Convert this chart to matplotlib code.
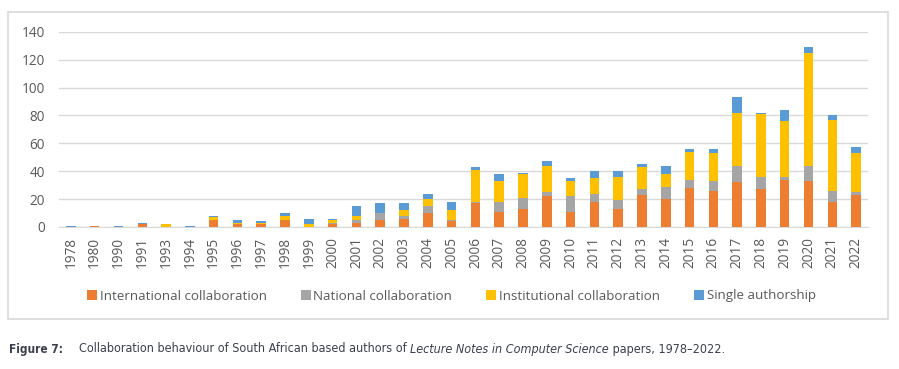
import numpy as np
import matplotlib
matplotlib.use("Agg")
import matplotlib.pyplot as plt
from matplotlib import font_manager
from matplotlib.patches import Rectangle

years = ['1978', '1980', '1990', '1991', '1993', '1994'] + [str(y) for y in range(1995, 2023)]

international = [0, 1, 0, 2, 0, 0, 5, 2, 2, 5, 0, 2, 3, 5, 6, 10, 4, 17, 11, 13,
                 22, 11, 18, 13, 23, 20, 28, 26, 32, 27, 34, 33, 18, 23]
national = [0, 0, 0, 0, 0, 0, 0, 0, 0, 0, 0, 1, 2, 5, 2, 5, 1, 1, 7, 8,
            3, 11, 6, 6, 4, 9, 6, 7, 12, 9, 2, 11, 8, 2]
institutional = [0, 0, 0, 0, 2, 0, 2, 1, 1, 3, 2, 2, 3, 0, 4, 5, 7, 23, 15, 17,
                 19, 11, 11, 17, 16, 9, 20, 20, 38, 45, 40, 81, 51, 28]
single = [1, 0, 1, 1, 0, 1, 1, 2, 1, 2, 4, 1, 7, 7, 5, 4, 6, 2, 5, 1,
          3, 2, 5, 4, 2, 6, 2, 3, 11, 1, 8, 4, 3, 4]

labels = ['International collaboration', 'National collaboration',
          'Institutional collaboration', 'Single authorship']
colors = ['#ED7D31', '#A5A5A5', '#FFC000', '#5B9BD5']

# narrow font for the caption, if there is one
names = {f.name for f in font_manager.fontManager.ttflist}
if 'Liberation Sans Narrow' in names:
    capfont = dict(family='Liberation Sans Narrow')
else:
    capfont = dict(family='DejaVu Sans', stretch='condensed')

W, H = 899, 369
fig = plt.figure(figsize=(W / 100, H / 100), dpi=100)
ax = fig.add_axes([59 / W, 1 - 227 / H, (868 - 59) / W, (227 - 31.7) / H])

x = np.arange(len(years))
bottom = np.zeros(len(years))
series = [international, national, institutional, single]
for vals, lab, col in zip(series, labels, colors):
    vals = np.array(vals)
    ax.bar(x, vals, 0.4, bottom=bottom, color=col, label=lab, zorder=3)
    bottom += vals

ax.set_xlim(-0.5, len(years) - 0.5)
ax.set_ylim(0, 140)
ax.set_yticks(range(0, 141, 20))
ax.set_xticks(x)
ax.set_xticklabels(years, rotation=90)
ax.tick_params(axis='x', length=0, labelsize=9.8, labelcolor='#595959', pad=7)
ax.tick_params(axis='y', length=0, labelsize=9.8, labelcolor='#595959', pad=10)
for lbl in ax.get_xticklabels() + ax.get_yticklabels():
    lbl.set_family('Open Sans')
ax.grid(axis='y', color='#D9D9D9', lw=1, zorder=0)
for s in ['top', 'right', 'left']:
    ax.spines[s].set_visible(False)
ax.spines['bottom'].set_color('#D9D9D9')

leg = fig.legend(loc='center', bbox_to_anchor=(0.502, 1 - 296 / H), ncol=4,
                 frameon=False, handlelength=0.75, handleheight=0.75,
                 handletextpad=0.2, columnspacing=2.55,
                 prop={'family': 'Open Sans', 'size': 9.6})
for t in leg.get_texts():
    t.set_color('#595959')

# chart border
fig.patches.append(Rectangle((8 / W, 1 - 319 / H), (888 - 8) / W, (319 - 12) / H,
                             transform=fig.transFigure, fill=False,
                             edgecolor='#D9D9D9', lw=1.2))

# caption
cap_y = 1 - 349 / H
fig.text(9 / W, cap_y, 'Figure 7:', weight='bold', size=8.5,
         color='#3b3f4f', va='center', **capfont)
r = fig.canvas.get_renderer()
parts = [('Collaboration behaviour of South African based authors of ', 'normal'),
         ('Lecture Notes in Computer Science', 'italic'),
         (' papers, 1978\u20132022.', 'normal')]
xpos = 79
for txt, st in parts:
    t = fig.text(xpos / W, cap_y, txt, style=st, size=9.0,
                 color='#3b3f4f', va='center', **capfont)
    xpos += t.get_window_extent(renderer=r).width

fig.savefig('out.png', dpi=100)
